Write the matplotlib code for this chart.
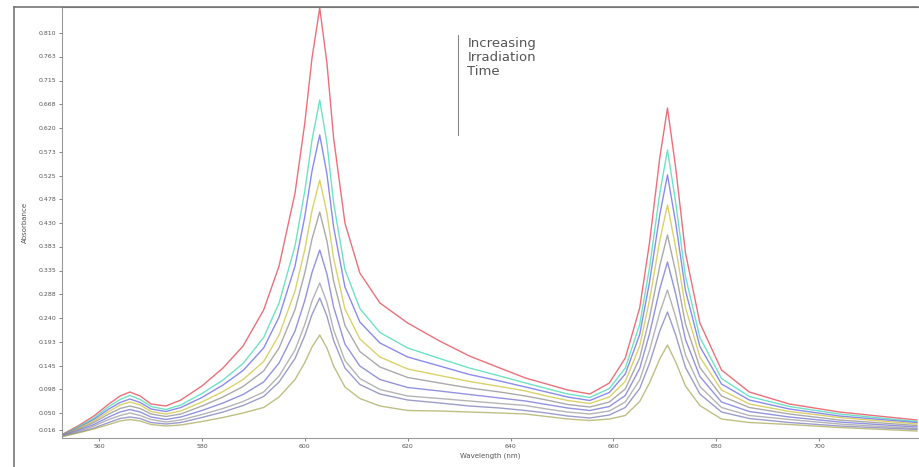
import matplotlib
matplotlib.use("Agg")
import matplotlib.pyplot as plt
from matplotlib.lines import Line2D

# wavelength (nm)
wavelength = [553.0, 555.9, 559.0, 561.9, 564.1, 566.0, 568.0, 570.1, 573.0, 575.9,
              580.0, 584.1, 588.0, 592.0, 595.0, 598.1, 600.0, 601.4, 602.9, 604.3,
              605.6, 607.8, 610.7, 614.6, 620.0, 626.2, 632.0, 637.9, 642.9, 647.0,
              651.1, 655.4, 659.2, 662.3, 665.1, 667.0, 669.0, 670.5, 672.1, 674.0,
              676.8, 681.0, 686.4, 694.2, 703.9, 719.0]

# absorbance, one list per spectrum (longest irradiation last)
abs_0 = [0.008, 0.024, 0.044, 0.068, 0.084, 0.092, 0.084, 0.068, 0.064, 0.076,
         0.104, 0.140, 0.184, 0.256, 0.344, 0.490, 0.630, 0.760, 0.860, 0.750,
         0.600, 0.430, 0.330, 0.270, 0.230, 0.194, 0.164, 0.140, 0.120, 0.108,
         0.096, 0.088, 0.110, 0.160, 0.260, 0.390, 0.560, 0.660, 0.540, 0.370,
         0.230, 0.136, 0.092, 0.068, 0.052, 0.036]
abs_1 = [0.007, 0.022, 0.040, 0.063, 0.077, 0.085, 0.077, 0.063, 0.057, 0.066,
         0.089, 0.116, 0.149, 0.201, 0.270, 0.384, 0.494, 0.596, 0.676, 0.590,
         0.470, 0.337, 0.259, 0.211, 0.180, 0.159, 0.140, 0.124, 0.110, 0.099,
         0.088, 0.081, 0.099, 0.140, 0.227, 0.340, 0.489, 0.576, 0.471, 0.323,
         0.201, 0.119, 0.083, 0.063, 0.048, 0.033]
abs_2 = [0.007, 0.020, 0.037, 0.058, 0.071, 0.078, 0.071, 0.058, 0.053, 0.061,
         0.081, 0.106, 0.135, 0.180, 0.242, 0.344, 0.443, 0.534, 0.606, 0.528,
         0.422, 0.302, 0.232, 0.190, 0.162, 0.144, 0.127, 0.114, 0.102, 0.092,
         0.082, 0.075, 0.091, 0.128, 0.207, 0.311, 0.446, 0.526, 0.430, 0.295,
         0.183, 0.108, 0.076, 0.058, 0.044, 0.031]
abs_3 = [0.006, 0.019, 0.034, 0.053, 0.066, 0.072, 0.066, 0.053, 0.048, 0.054,
         0.072, 0.093, 0.117, 0.153, 0.206, 0.294, 0.377, 0.455, 0.516, 0.450,
         0.359, 0.258, 0.198, 0.162, 0.138, 0.125, 0.113, 0.103, 0.094, 0.084,
         0.075, 0.069, 0.082, 0.113, 0.184, 0.275, 0.395, 0.466, 0.381, 0.261,
         0.162, 0.096, 0.068, 0.053, 0.041, 0.028]
abs_4 = [0.006, 0.017, 0.031, 0.048, 0.059, 0.064, 0.059, 0.048, 0.043, 0.048,
         0.064, 0.082, 0.103, 0.134, 0.180, 0.257, 0.330, 0.398, 0.452, 0.394,
         0.314, 0.225, 0.173, 0.142, 0.121, 0.110, 0.100, 0.092, 0.084, 0.076,
         0.067, 0.062, 0.072, 0.098, 0.160, 0.240, 0.344, 0.406, 0.332, 0.228,
         0.141, 0.084, 0.061, 0.048, 0.036, 0.025]
abs_5 = [0.005, 0.015, 0.027, 0.042, 0.052, 0.057, 0.052, 0.042, 0.037, 0.042,
         0.055, 0.070, 0.087, 0.112, 0.150, 0.214, 0.275, 0.331, 0.376, 0.328,
         0.262, 0.188, 0.144, 0.117, 0.101, 0.094, 0.087, 0.080, 0.074, 0.067,
         0.060, 0.055, 0.063, 0.085, 0.139, 0.208, 0.298, 0.352, 0.288, 0.197,
         0.123, 0.072, 0.053, 0.042, 0.032, 0.022]
abs_6 = [0.004, 0.013, 0.024, 0.037, 0.045, 0.050, 0.045, 0.037, 0.032, 0.036,
         0.047, 0.059, 0.073, 0.092, 0.124, 0.176, 0.227, 0.274, 0.310, 0.271,
         0.216, 0.155, 0.119, 0.097, 0.084, 0.079, 0.074, 0.069, 0.065, 0.058,
         0.052, 0.048, 0.054, 0.072, 0.116, 0.175, 0.251, 0.296, 0.242, 0.166,
         0.103, 0.061, 0.045, 0.037, 0.028, 0.019]
abs_7 = [0.004, 0.011, 0.020, 0.031, 0.039, 0.042, 0.039, 0.031, 0.028, 0.031,
         0.041, 0.052, 0.065, 0.083, 0.112, 0.159, 0.205, 0.247, 0.280, 0.244,
         0.195, 0.140, 0.107, 0.088, 0.076, 0.070, 0.064, 0.060, 0.055, 0.050,
         0.044, 0.040, 0.046, 0.061, 0.099, 0.149, 0.214, 0.252, 0.206, 0.141,
         0.088, 0.052, 0.039, 0.031, 0.024, 0.017]
abs_8 = [0.003, 0.010, 0.018, 0.027, 0.034, 0.037, 0.034, 0.027, 0.024, 0.026,
         0.033, 0.041, 0.050, 0.061, 0.082, 0.117, 0.151, 0.182, 0.206, 0.180,
         0.144, 0.102, 0.079, 0.064, 0.055, 0.054, 0.052, 0.050, 0.048, 0.043,
         0.038, 0.035, 0.038, 0.045, 0.073, 0.110, 0.158, 0.186, 0.152, 0.104,
         0.065, 0.038, 0.031, 0.027, 0.021, 0.014]

spectra = [abs_0, abs_1, abs_2, abs_3, abs_4, abs_5, abs_6, abs_7, abs_8]
colors = ["#e4404c", "#3fd8b2", "#6464e6", "#cfc23a", "#8e8e8e",
          "#6f6fd6", "#9c9c9c", "#7c7cba", "#a9a95c"]

x_ticks = [560, 580, 600, 620, 640, 660, 680, 700]
y_ticks = [0.016, 0.050, 0.098, 0.145, 0.193, 0.240, 0.288, 0.335, 0.383,
           0.430, 0.478, 0.525, 0.573, 0.620, 0.668, 0.715, 0.763, 0.810]

fig = plt.figure(figsize=(9.2, 4.67), dpi=100)
ax = fig.add_axes([62 / 920, 29 / 467, 856 / 920, 431 / 467])

for ys, c in zip(spectra, colors):
    ax.plot(wavelength, ys, color=c, lw=1.0, alpha=0.75)

ax.set_xlim(552.8, 719.2)
ax.set_ylim(0, 0.862)
ax.set_xticks(x_ticks)
ax.set_xticklabels([str(t) for t in x_ticks])
ax.set_yticks(y_ticks)
ax.set_yticklabels(["%.3f" % t for t in y_ticks])
ax.tick_params(labelsize=4.5, length=2, width=0.5, colors="#555555", pad=2)
ax.set_xlabel("Wavelength (nm)", fontsize=5, color="#555555", labelpad=3)
ax.set_ylabel("Absorbance", fontsize=5, color="#555555", labelpad=8)

for side in ["left", "bottom"]:
    ax.spines[side].set_color("#9a9a9a")
    ax.spines[side].set_linewidth(0.8)
ax.spines["right"].set_visible(False)
ax.spines["top"].set_color("#777777")

# arrow + note
ax.plot([629.7, 629.7], [0.806, 0.606], color="#888888", lw=0.8)
ax.text(631.6, 0.802, "Increasing\nIrradiation\nTime", fontsize=9.5,
        color="#555555", va="top", ha="left", linespacing=1.1)

# outer window frame
fig.add_artist(Line2D([14 / 920, 14 / 920], [0, 460 / 467], color="#777777", lw=1.2))
fig.add_artist(Line2D([14 / 920, 918 / 920], [460 / 467, 460 / 467], color="#777777", lw=1.2))

fig.savefig("out.png", dpi=100)
